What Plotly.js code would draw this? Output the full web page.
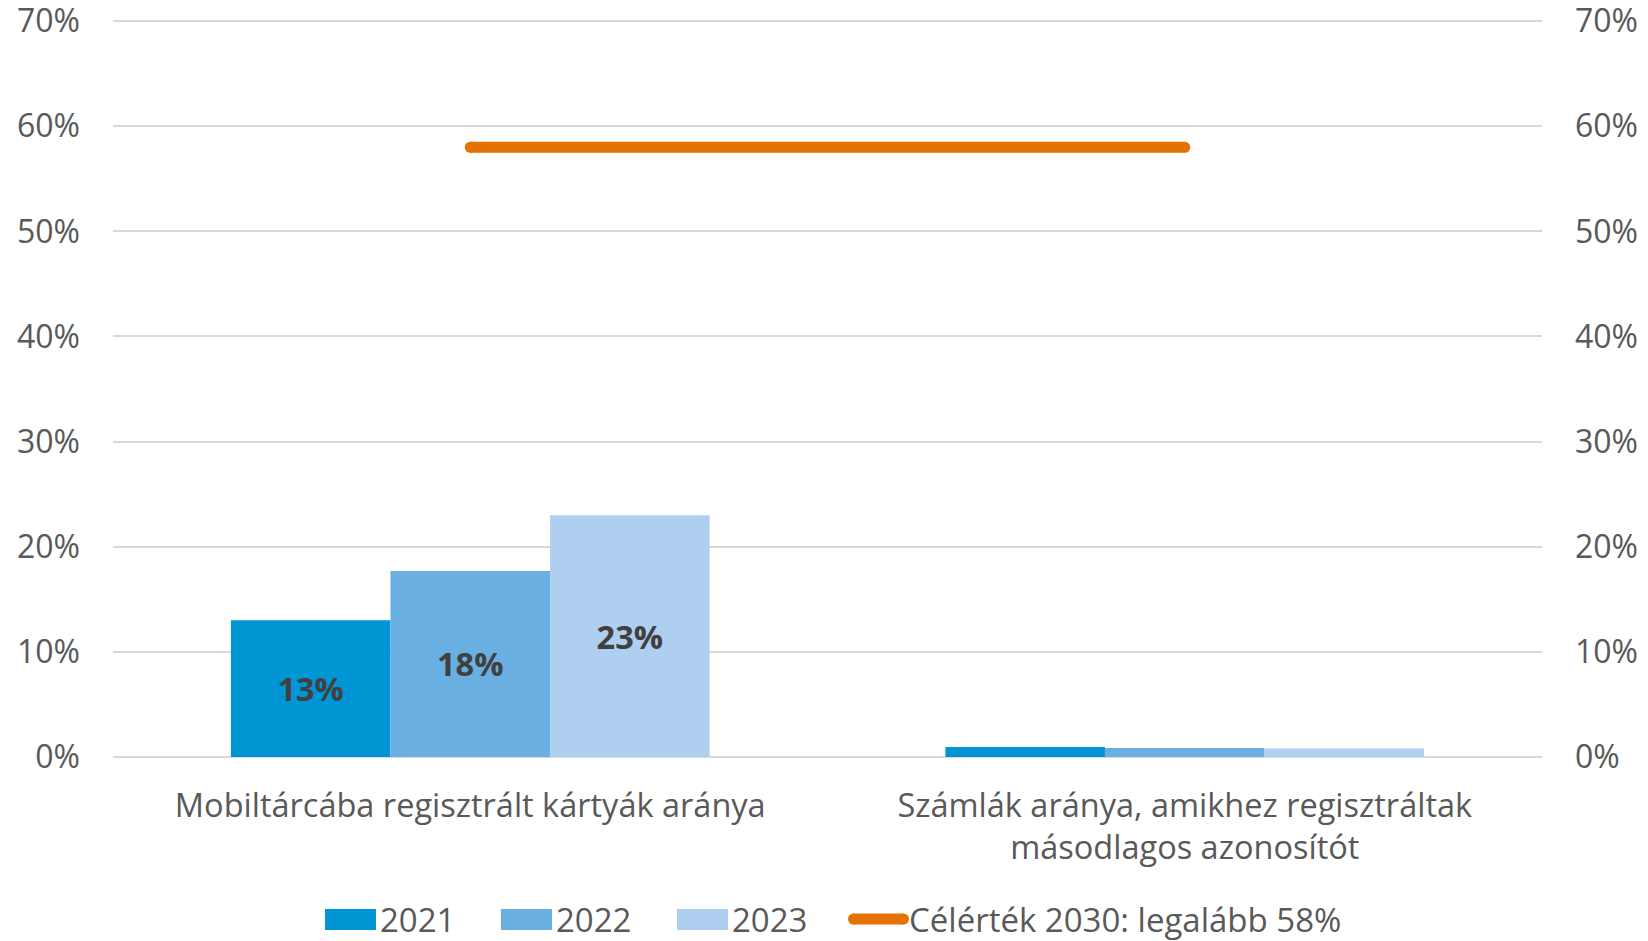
<!DOCTYPE html>
<html><head><meta charset="utf-8">
<script src="https://cdn.plot.ly/plotly-3.0.1.min.js"></script>
<style>html,body{margin:0;padding:0;background:#fff}#chart{width:1648px;height:941px}</style>
</head><body><div id="chart"></div>
<script>
// ---- data ----
const categories = ["Mobiltárcába regisztrált kártyák aránya", "Számlák aránya, amikhez regisztráltak<br>másodlagos azonosítót"];
const seriesNames = ["2021", "2022", "2023"];
const values2021 = [13.0, 0.95];
const values2022 = [17.7, 0.85];
const values2023 = [23.0, 0.8];
const targetName = "Célérték 2030: legalább 58%";
const targetValues = [58, 58];
const yTickValues = [0, 10, 20, 30, 40, 50, 60, 70];

// ---- styles ----
const barColors = ["#0096d6", "#6aafe2", "#afcff0"];
const orange = "#e57200";
const textGray = "#595959";
const fontFam = "'Open Sans', sans-serif";
const legendFam = "'Open Sans', sans-serif";

const seriesValues = [values2021, values2022, values2023];
const labelOf = v => v >= 5 ? Math.round(v) + "%" : "";

const traces = seriesValues.map((vals, i) => ({
  type: "bar",
  name: seriesNames[i],
  x: categories,
  y: vals,
  marker: {color: barColors[i]},
  text: vals.map(labelOf),
  textposition: "inside",
  insidetextanchor: "middle",
  constraintext: "none",
  textfont: {family: fontFam, size: 32.5, color: "#404040", weight: "bold"},
  showlegend: false,
  hoverinfo: "skip"
}));

traces.push({
  type: "scatter",
  mode: "lines+markers",
  name: targetName,
  x: categories,
  y: targetValues,
  yaxis: "y2",
  line: {color: orange, width: 11},
  marker: {color: orange, size: 11},
  showlegend: false,
  hoverinfo: "skip"
});

// plot area in px (range slightly above 70 so the top gridline is drawn)
const yMax = 70.2;
const W = 1648, H = 941, L = 113, R = 106, B = 184;
const T = Math.round(21 - (yMax - 70) * (736 / 70));
const pw = W - L - R, ph = H - T - B;
const px = x => (x - L) / pw;
const py = y => (H - B - y) / ph;

// custom legend
const shapes = [];
const annotations = [];
const legendY = 919;
const swatchX = [325, 501, 677];
seriesNames.forEach((n, i) => {
  shapes.push({type: "rect", xref: "paper", yref: "paper",
    x0: px(swatchX[i]), x1: px(swatchX[i] + 51), y0: py(legendY + 11), y1: py(legendY - 10),
    fillcolor: barColors[i], line: {width: 0}});
  annotations.push({xref: "paper", yref: "paper", x: px(swatchX[i] + 53), y: py(legendY),
    xanchor: "left", yanchor: "middle", showarrow: false, text: n,
    font: {family: legendFam, size: 33, color: textGray}});
});
shapes.push({type: "line", xref: "paper", yref: "paper",
  x0: px(853), x1: px(904), y0: py(legendY), y1: py(legendY),
  line: {color: orange, width: 11}});
shapes.push({type: "circle", xref: "paper", yref: "paper",
  x0: px(848), x1: px(859), y0: py(legendY + 5.5), y1: py(legendY - 5.5),
  fillcolor: orange, line: {width: 0}});
shapes.push({type: "circle", xref: "paper", yref: "paper",
  x0: px(898), x1: px(909), y0: py(legendY + 5.5), y1: py(legendY - 5.5),
  fillcolor: orange, line: {width: 0}});
annotations.push({xref: "paper", yref: "paper", x: px(907), y: py(legendY),
  xanchor: "left", yanchor: "middle", showarrow: false, text: targetName,
  font: {family: legendFam, size: 33, color: textGray}});

const yAxisBase = {
  range: [0, yMax],
  tickvals: yTickValues,
  ticktext: yTickValues.map(v => v + "%"),
  tickfont: {family: fontFam, size: 32, color: textGray},
  ticks: "",
  showline: false,
  ticklabeloverflow: "allow",
  fixedrange: true
};

const layout = {
  width: W, height: H,
  margin: {l: L, r: R, t: T, b: B, pad: 0},
  paper_bgcolor: "#ffffff",
  plot_bgcolor: "#ffffff",
  barmode: "group",
  bargap: 0.33,
  bargroupgap: 0,
  showlegend: false,
  xaxis: {
    type: "category",
    tickfont: {family: fontFam, size: 32.5, color: textGray},
    showgrid: false, showline: false, ticks: "",
    ticklabelstandoff: 26,
    fixedrange: true
  },
  yaxis: Object.assign({}, yAxisBase, {
    showgrid: true, gridcolor: "#d9d9d9", gridwidth: 2,
    zeroline: true, zerolinecolor: "#d9d9d9", zerolinewidth: 2,
    ticklabelstandoff: 32
  }),
  yaxis2: Object.assign({}, yAxisBase, {
    overlaying: "y", side: "right", showgrid: false, zeroline: false,
    ticklabelstandoff: 32
  }),
  shapes: shapes,
  annotations: annotations
};

Plotly.newPlot("chart", traces, layout, {displayModeBar: false, staticPlot: true});
</script>
</body></html>
